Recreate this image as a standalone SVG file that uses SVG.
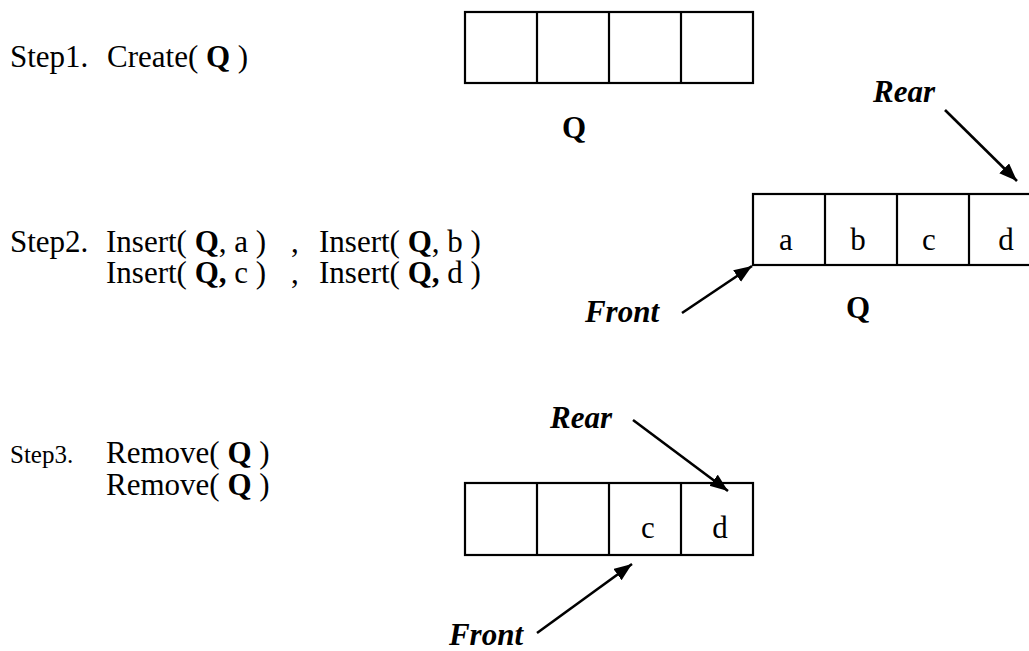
<svg xmlns="http://www.w3.org/2000/svg" width="1029" height="651" viewBox="0 0 1029 651">
  <style>
    text { font-family: "Liberation Serif", "Times New Roman", serif; fill: #000; }
    .t { font-size: 31px; }
    .sm { font-size: 25px; }
    .b { font-weight: bold; }
    .lbl { font-size: 31px; font-weight: bold; font-style: italic; }
    .cell { fill: #fff; stroke: #000; stroke-width: 2.2; }
    .div { stroke: #000; stroke-width: 2.2; }
    .arr { stroke: #000; stroke-width: 2.6; fill: none; marker-end: url(#head); }
  </style>
  <defs>
    <marker id="head" markerUnits="userSpaceOnUse" markerWidth="20" markerHeight="16" refX="18" refY="7" orient="auto">
      <path d="M0,0 L18,7 L0,14 z" fill="#000"/>
    </marker>
  </defs>
  <rect width="1029" height="651" fill="#fff"/>

  <!-- operation texts -->
  <g id="step1-text">
    <text class="t" x="10" y="67">Step1.</text>
    <text class="t" x="107" y="67">Create( <tspan class="b">Q</tspan> )</text>
  </g>
  <g id="step2-text">
    <text class="t" x="10" y="252">Step2.</text>
    <text class="t" x="106" y="252">Insert( <tspan class="b">Q</tspan>, a )</text>
    <text class="t" x="291" y="252">,</text>
    <text class="t" x="319" y="252">Insert( <tspan class="b">Q</tspan>, b )</text>
    <text class="t" x="106" y="283">Insert( <tspan class="b">Q,</tspan> c )</text>
    <text class="t" x="291" y="283">,</text>
    <text class="t" x="319" y="283">Insert( <tspan class="b">Q,</tspan> d )</text>
  </g>
  <g id="step3-text">
    <text class="sm" x="10" y="463">Step3.</text>
    <text class="t" x="106" y="463">Remove( <tspan class="b">Q</tspan> )</text>
    <text class="t" x="106" y="495">Remove( <tspan class="b">Q</tspan> )</text>
  </g>

  <!-- queue after Create -->
  <g id="queue1">
    <rect class="cell" x="465" y="12" width="288" height="71"/>
    <line class="div" x1="537" y1="12" x2="537" y2="83"/>
    <line class="div" x1="609" y1="12" x2="609" y2="83"/>
    <line class="div" x1="681" y1="12" x2="681" y2="83"/>
    <text class="t b" x="574" y="138" text-anchor="middle">Q</text>
  </g>

  <!-- queue after four inserts (runs past the right edge) -->
  <g id="queue2">
    <rect class="cell" x="753" y="194" width="288" height="71"/>
    <line class="div" x1="825" y1="194" x2="825" y2="265"/>
    <line class="div" x1="897" y1="194" x2="897" y2="265"/>
    <line class="div" x1="969" y1="194" x2="969" y2="265"/>
    <text class="t" x="786" y="250" text-anchor="middle">a</text>
    <text class="t" x="858" y="250" text-anchor="middle">b</text>
    <text class="t" x="929" y="250" text-anchor="middle">c</text>
    <text class="t" x="1006" y="250" text-anchor="middle">d</text>
    <text class="t b" x="858" y="318" text-anchor="middle">Q</text>
  </g>
  <g id="rear2"><text class="lbl" x="904" y="102" text-anchor="middle">Rear</text></g>
  <g id="front2"><text class="lbl" x="622" y="322" text-anchor="middle">Front</text></g>

  <!-- queue after two removes -->
  <g id="queue3">
    <rect class="cell" x="465" y="483" width="288" height="72"/>
    <line class="div" x1="537" y1="483" x2="537" y2="555"/>
    <line class="div" x1="609" y1="483" x2="609" y2="555"/>
    <line class="div" x1="681" y1="483" x2="681" y2="555"/>
    <text class="t" x="648" y="538" text-anchor="middle">c</text>
    <text class="t" x="720" y="538" text-anchor="middle">d</text>
  </g>
  <g id="rear3"><text class="lbl" x="581" y="428" text-anchor="middle">Rear</text></g>
  <g id="front3"><text class="lbl" x="486" y="645" text-anchor="middle">Front</text></g>

  <!-- pointer arrows -->
  <g id="connectors">
    <line class="arr" x1="945" y1="110" x2="1017" y2="181"/>
    <line class="arr" x1="682" y1="313" x2="752" y2="266"/>
    <line class="arr" x1="633" y1="420" x2="728" y2="491"/>
    <line class="arr" x1="537" y1="633" x2="632" y2="564"/>
  </g>
</svg>
